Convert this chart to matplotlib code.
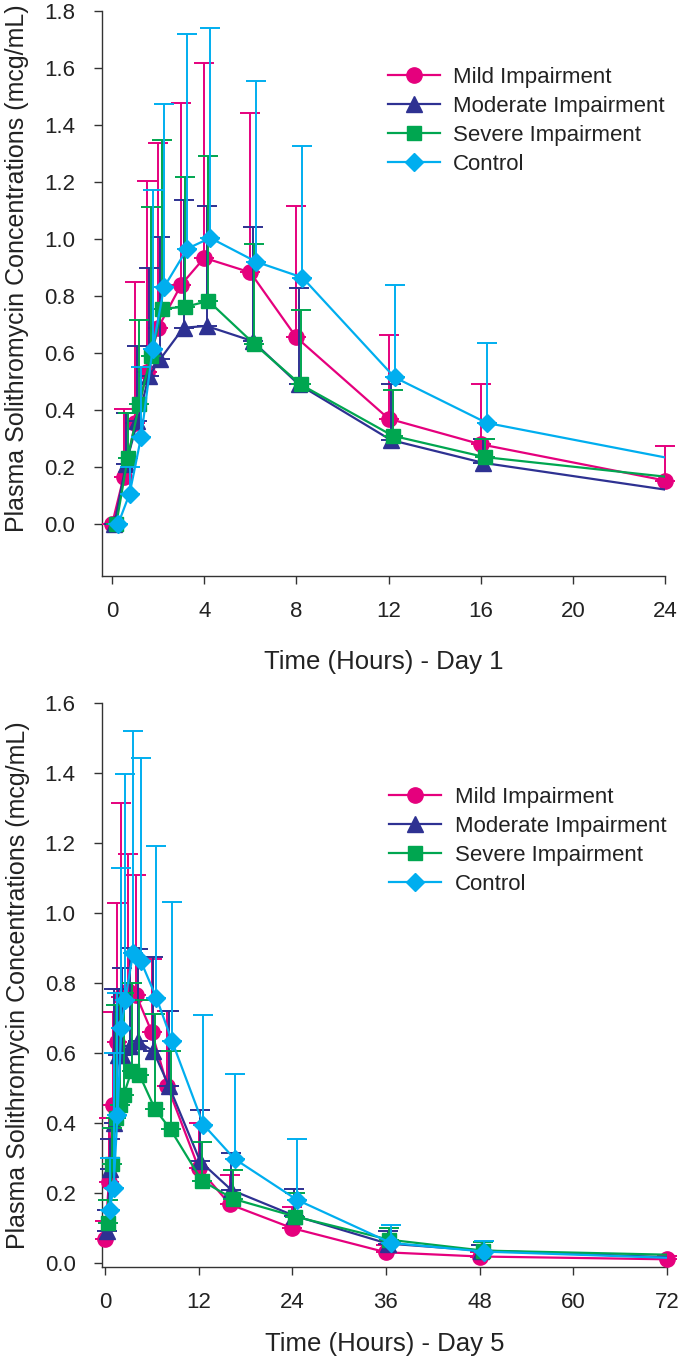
import matplotlib
matplotlib.use('Agg')
import matplotlib.pyplot as plt
from matplotlib.lines import Line2D
import numpy as np

plt.rcParams['font.family'] = ['Liberation Sans', 'DejaVu Sans']

# ---------------- data ----------------
groups = ['Mild Impairment', 'Moderate Impairment', 'Severe Impairment', 'Control']

# Day 1
times_d1 = [0, 0.5, 1, 1.5, 2, 3, 4, 6, 8, 12, 16, 24]
mild_d1 = [0, 0.165, 0.353, 0.534, 0.689, 0.84, 0.934, 0.883, 0.655, 0.37, 0.28, 0.153]
mod_d1 = [0, 0.21, 0.36, 0.52, 0.58, 0.689, 0.695, 0.642, 0.49, 0.295, 0.215, 0.12]
sev_d1 = [0, 0.232, 0.42, 0.588, 0.756, 0.762, 0.783, 0.631, 0.49, 0.31, 0.235, 0.165]
ctl_d1 = [0, 0.107, 0.306, 0.615, 0.832, 0.966, 1.004, 0.92, 0.865, 0.515, 0.355, 0.23]
# upper end of error bars (mean + SD)
mild_d1_up = [0, 0.403, 0.85, 1.203, 1.337, 1.477, 1.619, 1.443, 1.115, 0.665, 0.49, 0.275]
mod_d1_up = [0, 0.389, 0.624, 0.897, 1.008, 1.138, 1.115, 1.042, 0.83, 0.49, 0.30, 0.2]
sev_d1_up = [0, 0.389, 0.715, 1.111, 1.346, 1.216, 1.29, 0.981, 0.75, 0.47, 0.30, 0.25]
ctl_d1_up = [0, 0.2, 0.55, 1.172, 1.474, 1.718, 1.74, 1.554, 1.325, 0.84, 0.635, 0.35]

# Day 5
times_d5 = [0, 0.5, 1, 1.5, 2, 3, 4, 6, 8, 12, 16, 24, 36, 48, 72]
mild_d5 = [0.067, 0.23, 0.452, 0.63, 0.76, 0.776, 0.765, 0.659, 0.505, 0.271, 0.167, 0.099, 0.03, 0.018, 0.01]
mod_d5 = [0.09, 0.267, 0.40, 0.595, 0.595, 0.619, 0.633, 0.605, 0.505, 0.29, 0.208, 0.135, 0.055, 0.035, 0.016]
sev_d5 = [0.114, 0.281, 0.414, 0.45, 0.48, 0.548, 0.538, 0.44, 0.381, 0.235, 0.183, 0.132, 0.066, 0.035, 0.023]
ctl_d5 = [0.152, 0.214, 0.422, 0.671, 0.752, 0.886, 0.862, 0.757, 0.633, 0.395, 0.297, 0.18, 0.057, 0.032, 0.014]
mild_d5_up = [0.12, 0.414, 0.716, 1.027, 1.314, 1.168, 1.108, 0.869, 0.72, 0.40, 0.252, 0.16, 0.05, 0.03, 0.02]
mod_d5_up = [0.15, 0.354, 0.783, 0.783, 0.843, 0.9, 0.898, 0.874, 0.721, 0.438, 0.314, 0.21, 0.09, 0.05, 0.03]
sev_d5_up = [0.18, 0.386, 0.738, 0.77, 0.77, 0.8, 0.75, 0.71, 0.604, 0.346, 0.265, 0.2, 0.1, 0.06, 0.04]
ctl_d5_up = [0.3, 0.6, 0.77, 1.128, 1.397, 1.52, 1.443, 1.19, 1.031, 0.709, 0.541, 0.355, 0.109, 0.063, 0.03]

xticks_d1 = [0, 4, 8, 12, 16, 20, 24]
xticks_d5 = [0, 12, 24, 36, 48, 60, 72]
yticks_d1 = [0.0, 0.2, 0.4, 0.6, 0.8, 1.0, 1.2, 1.4, 1.6, 1.8]
yticks_d5 = [0.0, 0.2, 0.4, 0.6, 0.8, 1.0, 1.2, 1.4, 1.6]

# ---------------- style ----------------
colors = ['#E5007D', '#2E3192', '#00A650', '#00AEEF']
markers = ['o', '^', 's', 'D']
msizes = [11, 11, 9.5, 9.5]
dodge_d1 = [0, 0.1, 0.18, 0.26]
dodge_d5 = [0, 0.2, 0.4, 0.6]
TXT = '#222222'
AX = '#333333'

fig = plt.figure(figsize=(6.8, 13.62), dpi=100)
W, H = 680, 1362
ax1 = fig.add_axes([101.5 / W, 1 - 576 / H, (665 - 101.5) / W, (576 - 11) / H])
ax2 = fig.add_axes([102 / W, 1 - 1267 / H, (667 - 102) / W, (1267 - 703) / H])


def panel(ax, times, means, ups, dodge, xlim, ylim, xticks, yticks, xlabel,
          xlab_pad, ylab_y, leg_y):
    for i, (m, u) in enumerate(zip(means, ups)):
        x = np.array(times, float) + dodge[i]
        m = np.array(m, float)
        u = np.array(u, float)
        inside = x <= xlim[1] + 1e-9
        z = 3 + i
        ax.errorbar(x[inside], m[inside],
                    yerr=[np.zeros(inside.sum()), (u - m)[inside]],
                    fmt='none', ecolor=colors[i], elinewidth=1.4,
                    capsize=7.5, capthick=1.4, clip_on=False, zorder=z)
        ax.plot(x, m, color=colors[i], lw=1.6, zorder=z + 0.1, clip_on=True)
        ax.plot(x[inside], m[inside], ls='none', marker=markers[i], ms=msizes[i],
                color=colors[i], mec=colors[i], zorder=z + 0.2, clip_on=False)
    ax.set_xlim(*xlim)
    ax.set_ylim(*ylim)
    ax.set_xticks(xticks)
    ax.set_yticks(yticks)
    ax.set_yticklabels([f'{v:.1f}' for v in yticks])
    for s in ['top', 'right']:
        ax.spines[s].set_visible(False)
    for s in ['left', 'bottom']:
        ax.spines[s].set_color(AX)
        ax.spines[s].set_linewidth(1.0)
    ax.tick_params(direction='out', length=6, width=1.0, color=AX,
                   labelsize=16, labelcolor=TXT)
    ax.tick_params(axis='y', pad=13)
    ax.tick_params(axis='x', pad=12)
    ax.set_xlabel(xlabel, fontsize=18.5, color=TXT, labelpad=xlab_pad)
    ax.set_ylabel('Plasma Solithromycin Concentrations (mcg/mL)', fontsize=18,
                  color=TXT)
    ax.yaxis.set_label_coords(-0.128, ylab_y)
    handles = [Line2D([], [], color=colors[i], lw=1.6, marker=markers[i],
                      ms=msizes[i], mec=colors[i]) for i in range(4)]
    ax.legend(handles, groups, loc='upper left', bbox_to_anchor=(0.508, leg_y),
              frameon=False, fontsize=16, handlelength=2.35, handletextpad=0.6,
              labelspacing=0.36, borderpad=0, borderaxespad=0, labelcolor=TXT)


panel(ax1, times_d1, [mild_d1, mod_d1, sev_d1, ctl_d1],
      [mild_d1_up, mod_d1_up, sev_d1_up, ctl_d1_up], dodge_d1,
      (-0.46, 24), (-0.182, 1.8), xticks_d1, yticks_d1,
      'Time (Hours) - Day 1', 20, 0.545, 0.901)
panel(ax2, times_d5, [mild_d5, mod_d5, sev_d5, ctl_d5],
      [mild_d5_up, mod_d5_up, sev_d5_up, ctl_d5_up], dodge_d5,
      (-0.38, 72), (-0.012, 1.6), xticks_d5, yticks_d5,
      'Time (Hours) - Day 5', 14, 0.5, 0.851)

fig.savefig('out.png', dpi=100)
